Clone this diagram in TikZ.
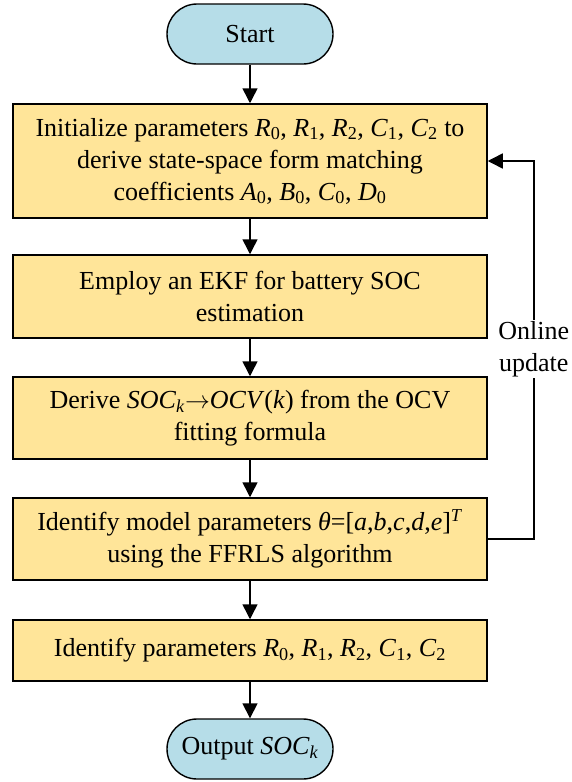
\documentclass[tikz,border=0pt]{standalone}
\usepackage{fontspec}
\setmainfont{Liberation Serif}
\usetikzlibrary{arrows.meta}
\definecolor{boxfill}{RGB}{255,229,153}
\definecolor{termfill}{RGB}{182,221,232}
% italic symbol with an upright subscript
\newcommand{\vsub}[2]{\textit{#1}\textsubscript{#2}}
\begin{document}
\begin{tikzpicture}[x=1pt,y=-1pt,
  every node/.style={font=\fontsize{26}{32}\selectfont, text=black},
  stepbox/.style={draw, line width=1.5pt, fill=boxfill, minimum width=474pt,
    align=center, inner sep=0pt},
  term/.style={draw, line width=1.4pt, fill=termfill, rounded corners=30pt,
    minimum width=166pt, minimum height=60pt, inner sep=0pt},
  flow/.style={line width=1.5pt, -{Triangle[length=15pt,width=15pt]}},
  note/.style={fill=white, align=center, inner sep=1pt}]
\useasboundingbox (0,0) rectangle (571,782);

\node[term] (start) at (250,34) {Start};
\node[stepbox, minimum height=114pt] (init) at (250,161)
  {Initialize parameters \vsub{R}{0}, \vsub{R}{1}, \vsub{R}{2}, \vsub{C}{1}, \vsub{C}{2} to\\
   derive state-space form matching\\
   coefficients \vsub{A}{0}, \vsub{B}{0}, \vsub{C}{0}, \vsub{D}{0}};
\node[stepbox, minimum height=83pt] (ekf) at (250,296.5)
  {Employ an EKF for battery SOC\\estimation};
\node[stepbox, minimum height=82pt] (ocv) at (250,418)
  {Derive \textit{SOC}\textsubscript{\textit{k}}$\rightarrow$\textit{OCV}(\textit{k}) from the OCV\\fitting formula};
\node[stepbox, minimum height=82pt] (ffrls) at (250,539)
  {Identify model parameters \textit{θ}=[\textit{a},\textit{b},\textit{c},\textit{d},\textit{e}]\textsuperscript{\textit{T}}\\
   using the FFRLS algorithm};
\node[stepbox, minimum height=61pt] (ident) at (250,650.5)
  {Identify parameters \vsub{R}{0}, \vsub{R}{1}, \vsub{R}{2}, \vsub{C}{1}, \vsub{C}{2}};
\node[term] (out) at (250,749) {Output \textit{SOC}\textsubscript{\textit{k}}};

\draw[flow] (start) -- (init);
\draw[flow] (init) -- (ekf);
\draw[flow] (ekf) -- (ocv);
\draw[flow] (ocv) -- (ffrls);
\draw[flow] (ffrls) -- (ident);
\draw[flow] (ident) -- (out);

% feedback loop from the FFRLS step back to the initialisation
\draw[flow] (ffrls.east) -- ++(46,0) coordinate (loop) |- (init.east);
\node[note] (upd) at (loop |- 0,349) {Online\\update};
\end{tikzpicture}
\end{document}
